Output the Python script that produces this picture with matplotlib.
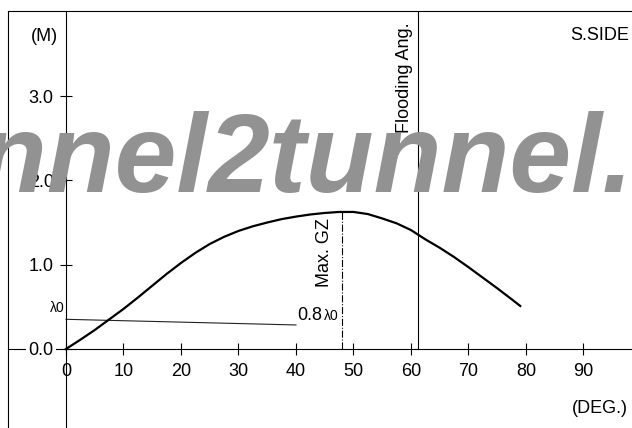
import numpy as np
import matplotlib; matplotlib.use('Agg'); import matplotlib.pyplot as plt

# GZ curve
deg = [0, 2.5, 5, 7.5, 10, 12.5, 15, 17.5, 20, 22.5, 25, 27.5, 30, 32.5, 35, 37.5, 40, 42.5, 45,
       47.5, 50, 52.5, 55, 57.5, 60, 62.5, 65, 67.5, 70, 72.5, 75, 77.5, 79]
gz = [0, 0.11, 0.225, 0.35, 0.475, 0.61, 0.75, 0.89, 1.02, 1.14, 1.245, 1.33, 1.40, 1.455, 1.50, 1.54, 1.57, 1.595, 1.613,
      1.625, 1.625, 1.60, 1.548, 1.49, 1.41, 1.30, 1.20, 1.09, 0.97, 0.845, 0.72, 0.59, 0.51]
lam_x = [0, 40]; lam_y = [0.352, 0.285]
max_gz_deg = 48.0; max_gz = 1.625
flood_deg = 61.2
xticks = [0, 10, 20, 30, 40, 50, 60, 70, 80, 90]
yticks = [0.0, 1.0, 2.0, 3.0]; ylabs = ['0.0', '1.0', '2.0', '3.0']

plt.rcParams.update({'font.family': ['Liberation Sans', 'DejaVu Sans'], 'font.size': 13})
W, H = 632, 428
fig = plt.figure(figsize=(W/100, H/100), dpi=100)
ax = fig.add_axes([8/W, 0, 624/W, 417/H])
X0, Y0 = -10.087, -0.937; X1, Y1 = 98.435, 4.008
ax.set_xlim(X0, X1); ax.set_ylim(Y0, Y1)
for s in ['left', 'bottom']: ax.spines[s].set_position(('data', 0)); ax.spines[s].set_linewidth(0.8)
ax.spines['right'].set_visible(False); ax.spines['top'].set_linewidth(0.8)
ax.plot([X0, X0], [Y0, Y1], color='k', lw=0.8, clip_on=False)
ax.set_xticks(xticks); ax.set_xticklabels([str(v) for v in xticks])
ax.set_yticks(yticks); ax.set_yticklabels(ylabs)
ax.tick_params(direction='inout', length=8.6, width=0.8, labelsize=13)
ax.tick_params(axis='x', pad=5.5); ax.tick_params(axis='y', pad=4.5)
ax.yaxis.set_zorder(3)
ax.get_yticklabels()[0].set_bbox(dict(facecolor='white', edgecolor='none', pad=1.5))

ax.plot(deg, gz, color='k', lw=1.6, zorder=4)
ax.plot(lam_x, lam_y, color='#222', lw=0.8)
ax.plot([max_gz_deg, max_gz_deg], [0, max_gz], color='k', lw=0.8, ls='-.')
ax.plot([flood_deg, flood_deg], [0, Y1], color='k', lw=0.8)

ax.text(-3.8, 3.70, '(M)', ha='center', va='center')
ax.text(87.7, 3.72, 'S.SIDE', ha='left', va='center')
ax.text(88.0, -0.71, '(DEG.)', ha='left', va='center')
ax.text(-0.2, lam_y[0]+0.05, 'λ0', ha='right', va='bottom', fontsize=10)
ax.text(40.3, 0.345, '0.8', ha='left', va='baseline')
ax.text(44.9, 0.345, 'λ0', ha='left', va='baseline', fontsize=10)
ax.text(44.9, 0.735, 'Max. GZ', rotation=90, ha='center', va='bottom')
ax.text(58.8, 2.56, 'Flooding Ang.', rotation=90, ha='center', va='bottom')

# watermark
wm = dict(fontsize=80, fontweight='bold', style='italic', color='#929292', va='baseline', zorder=10)
ax.text(24.6, 1.862, 'tunnel', ha='right', **wm)
ax.text(24.6, 1.862, '2tunnel.com', ha='left', **wm)
fig.savefig('out.png', dpi=100)
